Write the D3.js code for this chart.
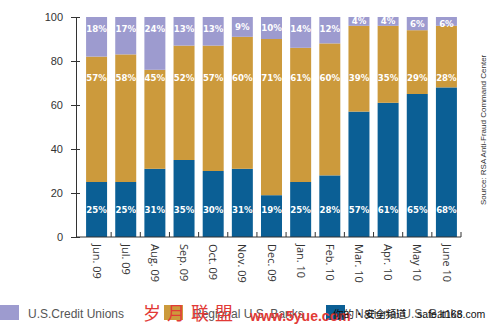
<!DOCTYPE html>
<html>
<head>
<meta charset="utf-8">
<script src="https://cdn.jsdelivr.net/npm/d3@7"></script>
<style>
  html, body { margin: 0; padding: 0; background: #ffffff; }
  svg { display: block; }
</style>
</head>
<body>
<svg id="chart" width="500" height="325"></svg>
<script>
// Share of phishing attacks by targeted institution type, per month
const months = ["Jun. 09", "Jul. 09", "Aug. 09", "Sep. 09", "Oct. 09", "Nov. 09", "Dec. 09",
                "Jan. 10", "Feb. 10", "Mar. 10", "Apr. 10", "May 10", "June 10"];
const nationalBanks = [25, 25, 31, 35, 30, 31, 19, 25, 28, 57, 61, 65, 68];
const regionalBanks = [57, 58, 45, 52, 57, 60, 71, 61, 60, 39, 35, 29, 28];
const creditUnions  = [18, 17, 24, 13, 13, 9, 10, 14, 12, 4, 4, 6, 6];
const yTicks = [0, 20, 40, 60, 80, 100];
const seriesNames = ["U.S.Credit Unions", "Regional U.S. Banks", "National U.S. Banks"];

const colors = {
  national: "#0b5f95",
  regional: "#cc9a3c",
  credit: "#9d9bcf"
};

const svg = d3.select("#chart");

const y = d3.scaleLinear().domain([0, 100]).range([237, 17]);
const x = d3.scaleBand().domain(months).range([82, 461])
  .paddingInner(0.28).paddingOuter(0.14);

// plot area clip: the value axis stops at 100
svg.append("defs").append("clipPath").attr("id", "plot")
  .append("rect")
  .attr("x", x.range()[0]).attr("y", y(100))
  .attr("width", x.range()[1] - x.range()[0])
  .attr("height", y(0) - y(100));

// stacked table: national at the bottom, regional in the middle, credit unions on top
const rows = months.map((m, i) => ({
  month: m, national: nationalBanks[i], regional: regionalBanks[i], credit: creditUnions[i]
}));
const stack = d3.stack().keys(["national", "regional", "credit"]);
const layers = stack(rows);

const bars = svg.append("g").attr("clip-path", "url(#plot)");
layers.forEach(layer => {
  bars.selectAll(null)
    .data(layer)
    .join("rect")
    .attr("x", d => x(d.data.month))
    .attr("width", x.bandwidth())
    .attr("y", d => y(d[1]))
    .attr("height", d => y(d[0]) - y(d[1]))
    .attr("fill", colors[layer.key]);
});

// value labels
const labelFont = "DejaVu Sans, Verdana, sans-serif";
const labels = svg.append("g")
  .attr("font-family", labelFont)
  .attr("font-size", "8.6px")
  .attr("font-weight", "bold")
  .attr("fill", "#ffffff")
  .attr("text-anchor", "middle");

const lBottom = layers[0], lMid = layers[1], lTop = layers[2];
labels.selectAll(".lb").data(lBottom).join("text")
  .attr("x", d => x(d.data.month) + x.bandwidth() / 2)
  .attr("y", y(12.3))
  .attr("dy", "0.36em")
  .text(d => d.data.national + "%");
labels.selectAll(".lm").data(lMid).join("text")
  .attr("x", d => x(d.data.month) + x.bandwidth() / 2)
  .attr("y", y(72.5))
  .attr("dy", "0.36em")
  .text(d => d.data.regional + "%");
labels.selectAll(".lt").data(lTop).join("text")
  .attr("x", d => x(d.data.month) + x.bandwidth() / 2)
  .attr("y", d => y(100) + Math.min((y(d[0]) - y(d[1])) / 2, 11.5))
  .attr("dy", "0.36em")
  .text(d => d.data.credit + "%");

// y axis, ticks crossing the axis line
const yAxis = svg.append("g")
  .attr("transform", "translate(76,0)")
  .call(d3.axisLeft(y).tickValues(yTicks).tickSize(5).tickSizeOuter(0).tickPadding(8));
yAxis.select(".domain").attr("stroke", "#333");
yAxis.selectAll(".tick line").attr("x1", 4).attr("stroke", "#333");
yAxis.selectAll(".tick text")
  .attr("font-family", "Liberation Sans, Arial, sans-serif")
  .attr("font-size", "11px")
  .attr("fill", "#333");

// x axis: base line with small upward ticks between months
svg.append("line")
  .attr("x1", 76).attr("x2", x.range()[1])
  .attr("y1", y(0)).attr("y2", y(0))
  .attr("stroke", "#333");
const gap = x.step() - x.bandwidth();
svg.append("g").selectAll("line")
  .data(months)
  .join("line")
  .attr("x1", d => x(d) + x.bandwidth() + gap / 2)
  .attr("x2", d => x(d) + x.bandwidth() + gap / 2)
  .attr("y1", y(0)).attr("y2", y(0) - 5)
  .attr("stroke", "#333");

const xAxis = svg.append("g")
  .attr("transform", `translate(0,${y(0)})`)
  .call(d3.axisBottom(x).tickSize(0).tickPadding(0));
xAxis.select(".domain").remove();
xAxis.selectAll(".tick text")
  .attr("transform", "rotate(90)")
  .attr("x", 7)
  .attr("y", 0)
  .attr("dy", "0.35em")
  .attr("text-anchor", "start")
  .attr("font-family", "Open Sans, Liberation Sans, sans-serif")
  .attr("font-size", "11px")
  .attr("fill", "#333");

// source note
svg.append("text")
  .attr("transform", "translate(483,205) rotate(-90)")
  .attr("dy", "0.35em")
  .attr("font-family", "Liberation Sans, Arial, sans-serif")
  .attr("font-size", "8px")
  .attr("fill", "#333")
  .text("Source: RSA Anti-Fraud Command Center");

// legend
const legendItems = [
  { name: seriesNames[0], color: colors.credit, sx: 0, tx: 28 },
  { name: seriesNames[1], color: colors.regional, sx: 164, tx: 193 },
  { name: seriesNames[2], color: colors.national, sx: 326, tx: 355 }
];
const legend = svg.append("g");
legend.selectAll("rect").data(legendItems).join("rect")
  .attr("x", d => d.sx).attr("y", 305)
  .attr("width", 19).attr("height", 15)
  .attr("fill", d => d.color);
legend.selectAll("text").data(legendItems).join("text")
  .attr("x", d => d.tx).attr("y", 318)
  .attr("font-family", "Liberation Sans, Arial, sans-serif")
  .attr("font-size", "12px")
  .attr("fill", "#555")
  .text(d => d.name);

// site stamps along the bottom
svg.append("text")
  .attr("x", 143).attr("y", 320)
  .attr("font-family", "Noto Sans CJK SC, sans-serif")
  .attr("font-size", "18px")
  .attr("letter-spacing", "6px")
  .attr("fill", "#e23a36")
  .text("岁月联盟");
svg.append("text")
  .attr("x", 250).attr("y", 321)
  .attr("font-family", "Liberation Sans, Arial, sans-serif")
  .attr("font-size", "14px")
  .attr("font-weight", "bold")
  .attr("fill", "#e23a36")
  .text("www.5yue.com");
svg.append("text")
  .attr("x", 333).attr("y", 318)
  .attr("font-family", "Noto Sans CJK SC, sans-serif")
  .attr("font-size", "10.5px")
  .attr("fill", "#111")
  .text("你的•安全频道");
svg.append("text")
  .attr("x", 417).attr("y", 318)
  .attr("font-family", "Liberation Sans, Arial, sans-serif")
  .attr("font-size", "10.5px")
  .attr("fill", "#111")
  .text("safe.it168.com");
</script>
</body>
</html>
